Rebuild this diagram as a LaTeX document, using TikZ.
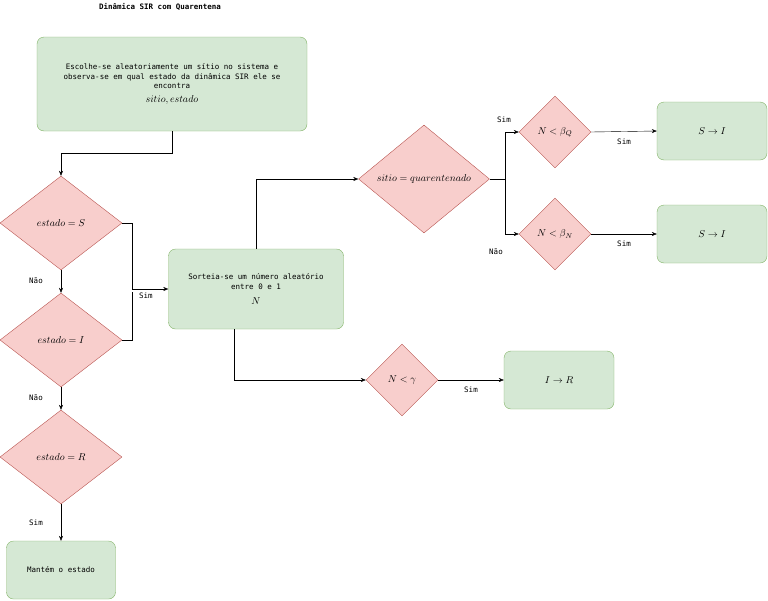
\documentclass[tikz,border=0pt]{standalone}
\usepackage{fontspec}
\setmonofont{DejaVu Sans Mono}
\usetikzlibrary{shapes.geometric,arrows.meta}
\definecolor{boxfill}{HTML}{D5E8D4}
\definecolor{boxline}{HTML}{82B366}
\definecolor{decfill}{HTML}{F8CECC}
\definecolor{decline}{HTML}{B85450}
\begin{document}
\begin{tikzpicture}[
	x=1pt, y=-1pt,
	every node/.style = {font=\ttfamily\fontsize{7.5}{9.5}\selectfont},
	action/.style = {
		rectangle, rounded corners=7pt,
		draw=boxline, fill=boxfill,
		align=center, inner sep=0pt
	},
	choice/.style = {
		diamond, draw=decline, fill=decfill,
		inner sep=0pt, font=\fontsize{10}{12}\selectfont
	},
	flow/.style = {-{Stealth[length=5pt,width=4pt]}, thin},
	tag/.style = {fill=white, inner sep=1pt},
]
	\useasboundingbox (0,0) rectangle (768,600);
	\node (title) at (160,7) {\bfseries Dinâmica SIR com Quarentena};

	\node (pick) [action, minimum width=270pt, minimum height=94pt] at (172,84)
		{Escolhe-se aleatoriamente um sítio no sistema e\\
		 observa-se em qual estado da dinâmica SIR ele se\\
		 encontra\\[4pt] {\fontsize{10}{12}\selectfont $sitio, estado$}};

	\node (isS) [choice, minimum width=122pt, minimum height=94pt] at (61,223) {$estado = S$};
	\node (isI) [choice, minimum width=122pt, minimum height=94pt] at (61,340) {$estado = I$};
	\node (isR) [choice, minimum width=122pt, minimum height=94pt] at (61,457) {$estado = R$};
	\node (keep) [action, minimum width=109pt, minimum height=58pt] at (61,570) {Mantém o estado};

	\node (lot) [action, minimum width=175pt, minimum height=80pt] at (256,289)
		{Sorteia-se um número aleatório\\ entre 0 e 1\\[6pt] {\fontsize{10}{12}\selectfont $N$}};

	\node (quar) [choice, minimum width=131pt, minimum height=108pt] at (424,179) {$sitio = quarentenado$};
	\node (betaQ) [choice, minimum width=72pt, minimum height=72pt] at (555,132) {$N < \beta_Q$};
	\node (betaN) [choice, minimum width=72pt, minimum height=72pt] at (555,234) {$N < \beta_N$};
	\node (infQ) [action, minimum width=110pt, minimum height=58pt] at (712,131) {\fontsize{10}{12}\selectfont $S \rightarrow I$};
	\node (infN) [action, minimum width=110pt, minimum height=58pt] at (712,234) {\fontsize{10}{12}\selectfont $S \rightarrow I$};

	\node (gamma) [choice, minimum width=72pt, minimum height=72pt] at (402,380) {$N < \gamma$};
	\node (rec) [action, minimum width=110pt, minimum height=58pt] at (559,380) {\fontsize{10}{12}\selectfont $I \rightarrow R$};

	% coluna da esquerda
	\draw[flow] (pick.south) -- ++(0,22) -| (isS.north);
	\draw[flow] (isS.south) -- node[tag, pos=0.45, xshift=-25pt] {Não} (isI.north);
	\draw[flow] (isI.south) -- node[tag, pos=0.45, xshift=-25pt] {Não} (isR.north);
	\draw[flow] (isR.south) -- node[tag, pos=0.5, xshift=-25pt] {Sim} (keep.north);
	\draw[flow] (isS.east) -- (132,223) |- node[tag, pos=0.8, yshift=-7pt, xshift=-8pt] {Sim} (lot.west);
	\draw (isI.east) -- (132,340) -- (132,292);

	% ramos do sorteio
	\draw[flow] (lot.north) |- (quar.west);
	\draw[flow] (234,329) |- (gamma.west);
	\draw[flow] (quar.east) -- (505,179) |- (betaQ.west);
	\draw[flow] (505,179) |- (betaN.west);
	\node (simQ) [tag] at (504,120) {Sim};
	\node (naoN) [tag] at (496,252) {Não};
	\draw[flow] (betaQ.east) -- node[tag, below=6pt] {Sim} (infQ.west);
	\draw[flow] (betaN.east) -- node[tag, below=6pt] {Sim} (infN.west);
	\draw[flow] (gamma.east) -- node[tag, below=6pt] {Sim} (rec.west);
\end{tikzpicture}
\end{document}
